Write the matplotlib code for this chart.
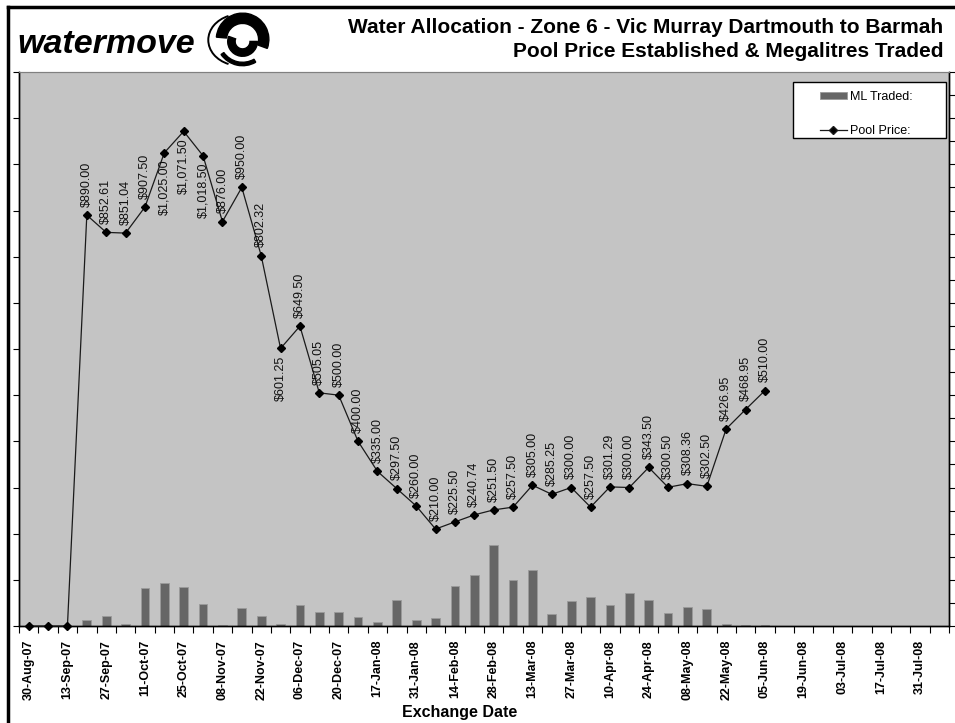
import matplotlib
matplotlib.use("Agg")
import matplotlib.pyplot as plt
from matplotlib.patches import Patch, Wedge, Arc, Rectangle
from matplotlib.lines import Line2D
import numpy as np

plt.rcParams['font.family'] = ['Liberation Sans', 'DejaVu Sans']

# weekly exchange dates (category axis; no trading over the new-year break)
dates = ["30-Aug-07", "06-Sep-07", "13-Sep-07", "20-Sep-07", "27-Sep-07", "04-Oct-07",
         "11-Oct-07", "18-Oct-07", "25-Oct-07", "01-Nov-07", "08-Nov-07", "15-Nov-07",
         "22-Nov-07", "29-Nov-07", "06-Dec-07", "13-Dec-07", "20-Dec-07", "10-Jan-08",
         "17-Jan-08", "24-Jan-08", "31-Jan-08", "07-Feb-08", "14-Feb-08", "21-Feb-08",
         "28-Feb-08", "06-Mar-08", "13-Mar-08", "20-Mar-08", "27-Mar-08", "03-Apr-08",
         "10-Apr-08", "17-Apr-08", "24-Apr-08", "01-May-08", "08-May-08", "15-May-08",
         "22-May-08", "29-May-08", "05-Jun-08", "12-Jun-08", "19-Jun-08", "26-Jun-08",
         "03-Jul-08", "10-Jul-08", "17-Jul-08", "24-Jul-08", "31-Jul-08", "07-Aug-08"]

# pool price ($/ML) for the weeks that have a result
pool_price = [0, 0, 0, 890.00, 852.61, 851.04, 907.50, 1025.00, 1071.50, 1018.50,
              876.00, 950.00, 802.32, 601.25, 649.50, 505.05, 500.00, 400.00, 335.00,
              297.50, 260.00, 210.00, 225.50, 240.74, 251.50, 257.50, 305.00, 285.25,
              300.00, 257.50, 301.29, 300.00, 343.50, 300.50, 308.36, 302.50, 426.95,
              468.95, 510.00]

# megalitres traded
ml_traded = [0, 0, 0, 136, 223, 50, 829, 937, 851, 483, 28, 396, 223, 50, 461, 310,
             310, 195, 93, 569, 136, 173, 872, 1110, 1747, 1002, 1219, 266, 548, 634,
             461, 721, 569, 288, 418, 374, 50, 28, 28]

# labels that sit below their point
below = {7, 8, 9, 13}

W, H = 955, 723
fig = plt.figure(figsize=(W / 100, H / 100), dpi=100)

def fx(px):
    return px / W

def fy(py):
    return (H - py) / H

ax2 = fig.add_axes([fx(19), fy(626), fx(949) - fx(19), fy(72) - fy(626)])
ax = ax2.twinx()
ax.set_zorder(ax2.get_zorder() + 1)
ax.patch.set_visible(False)
ax2.set_facecolor('#c4c4c4')

x = np.arange(len(dates))
xp = np.arange(len(pool_price))

ax2.bar(np.arange(len(ml_traded)), ml_traded, width=0.45, color='#666666',
        edgecolor='#9a9a9a', linewidth=0.6, zorder=2)
ax2.set_ylim(0, 12000)
ax2.set_yticks(np.arange(0, 12001, 500))

ax.plot(xp, pool_price, color='#1a1a1a', lw=0.9, marker='D', markersize=4,
        markerfacecolor='black', markeredgecolor='black', clip_on=False, zorder=3)
ax.set_ylim(0, 1200)
ax.set_yticks(np.arange(0, 1201, 100))

for i, v in enumerate(pool_price):
    if v == 0:
        continue
    txt = "${:,.2f}".format(v)
    if i in below:
        ax.annotate(txt, (i, v), xytext=(0, -5), textcoords='offset points',
                    rotation=90, ha='center', va='top', fontsize=9, color='#111111')
    else:
        ax.annotate(txt, (i, v), xytext=(0, 6), textcoords='offset points',
                    rotation=90, ha='center', va='bottom', fontsize=9, color='#111111')

# the price axis is drawn on the left, the ML axis on the right
ax.yaxis.tick_left()
ax2.yaxis.tick_right()
for a in (ax, ax2):
    a.set_xlim(-0.5, len(dates) - 0.5)
    a.tick_params(axis='y', which='both', direction='out', length=4, width=0.8,
                  labelleft=False, labelright=False, color='black')
    for s in ('left', 'right', 'bottom'):
        a.spines[s].set_color('black')
        a.spines[s].set_linewidth(1)
    a.spines['top'].set_color('#808080')

ax2.set_xticks(x[::2])
ax2.set_xticklabels(dates[::2], rotation=90, fontsize=9, fontweight='bold')
ax2.set_xticks(np.arange(-0.5, len(dates), 1), minor=True)
ax2.tick_params(axis='x', which='major', length=0, pad=10)
ax2.tick_params(axis='x', which='minor', length=5, width=0.8, direction='out')

# legend box
ax.add_patch(Rectangle((fx(793), fy(138)), fx(946) - fx(793), fy(82) - fy(138),
                       transform=fig.transFigure, facecolor='white', edgecolor='black',
                       linewidth=1, zorder=4.5, clip_on=False))
handles = [Patch(facecolor='#666666', edgecolor='#9a9a9a', linewidth=0.6),
           Line2D([], [], color='#1a1a1a', lw=0.9, marker='D', markersize=4,
                  markerfacecolor='black')]
leg = ax.legend(handles, ["ML Traded:", "Pool Price:"], loc='center',
                bbox_to_anchor=(fx(866), fy(114)), bbox_transform=fig.transFigure,
                frameon=False, fontsize=9, handlelength=2.2, handleheight=0.5,
                handletextpad=0.2, labelspacing=1.8)
leg.set_zorder(5)

fig.text(fx(460), fy(712), "Exchange Date", ha='center', va='center',
         fontsize=11.5, fontweight='bold')

fig.text(fx(943), fy(33), "Water Allocation - Zone 6 - Vic Murray Dartmouth to Barmah",
         ha='right', va='baseline', fontsize=15, fontweight='bold')
fig.text(fx(943), fy(57), "Pool Price Established & Megalitres Traded",
         ha='right', va='baseline', fontsize=15, fontweight='bold')

# logo
fig.text(fx(17), fy(53), "watermove", ha='left', va='baseline', fontsize=24.5,
         fontweight='bold', fontstyle='italic')
lg = fig.add_axes([fx(194), fy(70), fx(274) - fx(194), fy(10) - fy(70)])
lg.set_xlim(-1.4, 1.4)
lg.set_ylim(-1.05, 1.05)
lg.set_aspect('equal')
lg.axis('off')
lg.add_patch(Arc((0.2, 0), 2.2, 1.8, theta1=115, theta2=245, lw=1.4, color='black'))
lg.add_patch(Wedge((0.3, 0.02), 0.92, -20, 175, width=0.36, color='black'))
lg.add_patch(Wedge((0.3, -0.05), 0.52, 160, 360, width=0.26, color='black'))
lg.add_patch(Wedge((0.3, 0.02), 0.92, 215, 300, width=0.12, color='black'))

# outer frame
fig.add_artist(Line2D([fx(8), 1], [fy(7), fy(7)], color='black', lw=2.5))
fig.add_artist(Line2D([fx(8), fx(8)], [fy(7), 0], color='black', lw=2.5))

fig.savefig("out.png", dpi=100)
